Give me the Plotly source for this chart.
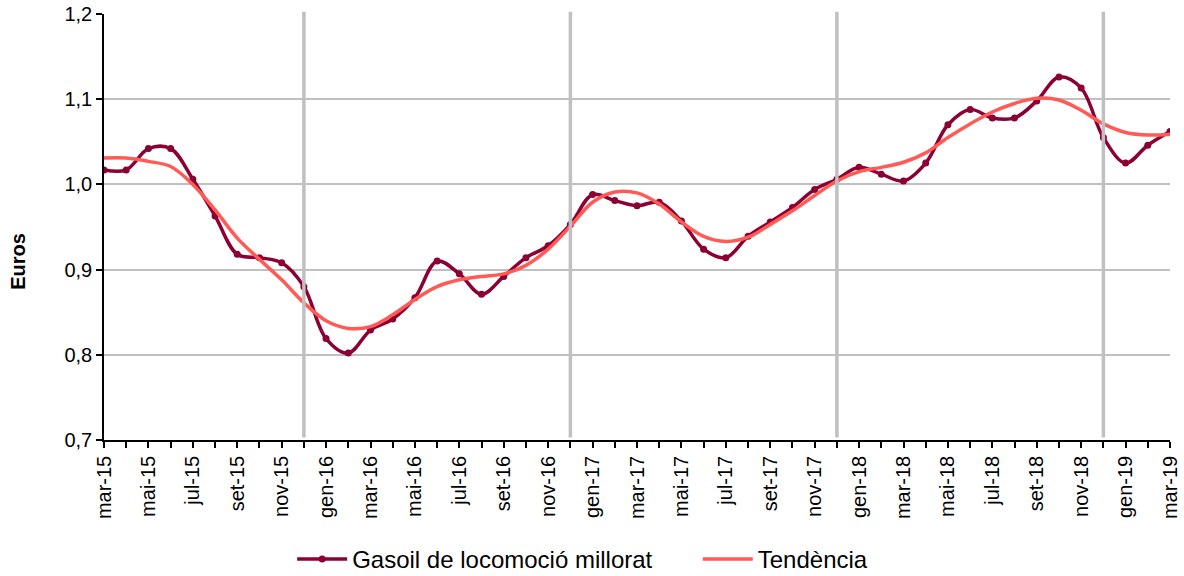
import plotly.graph_objects as go

months = ["mar-15", "abr-15", "mai-15", "jun-15", "jul-15", "ago-15", "set-15", "oct-15", "nov-15", "des-15",
          "gen-16", "feb-16", "mar-16", "abr-16", "mai-16", "jun-16", "jul-16", "ago-16", "set-16", "oct-16", "nov-16", "des-16",
          "gen-17", "feb-17", "mar-17", "abr-17", "mai-17", "jun-17", "jul-17", "ago-17", "set-17", "oct-17", "nov-17", "des-17",
          "gen-18", "feb-18", "mar-18", "abr-18", "mai-18", "jun-18", "jul-18", "ago-18", "set-18", "oct-18", "nov-18", "des-18",
          "gen-19", "feb-19", "mar-19"]

gasoil = [1.017, 1.017, 1.042, 1.042, 1.006, 0.963, 0.918, 0.914, 0.908, 0.880,
          0.819, 0.802, 0.829, 0.842, 0.867, 0.910, 0.895, 0.871, 0.892, 0.914, 0.928, 0.953,
          0.988, 0.981, 0.975, 0.979, 0.957, 0.924, 0.914, 0.939, 0.956, 0.973, 0.994, 1.006,
          1.020, 1.012, 1.004, 1.025, 1.070, 1.088, 1.078, 1.078, 1.098, 1.126, 1.113, 1.055,
          1.025, 1.046, 1.062]

tendencia = [1.031, 1.031, 1.027, 1.021, 1.000, 0.970, 0.937, 0.912, 0.888, 0.861,
             0.840, 0.831, 0.833, 0.847, 0.865, 0.880, 0.888, 0.892, 0.895, 0.905, 0.924, 0.951,
             0.979, 0.991, 0.990, 0.977, 0.956, 0.939, 0.933, 0.938, 0.953, 0.969, 0.987, 1.004,
             1.015, 1.020, 1.026, 1.037, 1.055, 1.071, 1.085, 1.095, 1.101, 1.099, 1.087, 1.071,
             1.061, 1.058, 1.059]

year_breaks = ["des-15", "des-16", "des-17", "des-18"]
y_ticks = [0.7, 0.8, 0.9, 1.0, 1.1, 1.2]

series_name = "Gasoil de locomoció millorat"
trend_name = "Tendència"
y_title = "Euros"

FONT = "Liberation Sans, Arial, sans-serif"

fig = go.Figure()
fig.add_trace(go.Scatter(
    x=months, y=gasoil, name=series_name, mode="lines+markers",
    line=dict(color="#8C0034", width=3.5, shape="spline", smoothing=1.0),
    marker=dict(color="#8C0034", size=7),
    legend="legend",
))
fig.add_trace(go.Scatter(
    x=months, y=tendencia, name=trend_name, mode="lines",
    line=dict(color="#FF5A55", width=3.5, shape="spline", smoothing=1.0),
    legend="legend2",
))

for m in year_breaks:
    fig.add_shape(type="line", xref="x", yref="paper", x0=m, x1=m, y0=0.006, y1=1.005,
                  line=dict(color="#C0C0C0", width=3.5), layer="above")

ticktext = [m if i % 2 == 0 else "" for i, m in enumerate(months)]

fig.update_xaxes(
    type="category", range=[0, len(months) - 1],
    tickmode="array", tickvals=months, ticktext=ticktext,
    tickangle=-90, ticks="outside", ticklen=6, tickwidth=1.5, tickcolor="#000",
    showline=True, linecolor="#000", linewidth=1.5,
    showgrid=False, zeroline=False,
    tickfont=dict(family=FONT, size=20, color="#000"),
)
fig.update_yaxes(
    range=[0.7, 1.2], tickmode="array", tickvals=y_ticks, tickformat=".1f",
    ticks="outside", ticklen=6, tickwidth=1.5, tickcolor="#000",
    showline=True, linecolor="#000", linewidth=1.5,
    showgrid=True, gridcolor="#C0C0C0", gridwidth=1.5, zeroline=False,
    tickfont=dict(family=FONT, size=20, color="#000"),
)

fig.add_annotation(text="<b>" + y_title + "</b>", xref="paper", yref="paper",
                   x=-0.081, y=0.42, textangle=-90, showarrow=False,
                   xanchor="center", yanchor="middle",
                   font=dict(family=FONT, size=20, color="#000"))

legend_common = dict(orientation="h", yanchor="middle", y=-0.28, xanchor="left",
                     font=dict(family=FONT, size=24, color="#000"), itemwidth=50,
                     bgcolor="rgba(0,0,0,0)")

fig.update_layout(
    width=1184, height=576,
    margin=dict(l=104, r=14, t=14, b=136, autoexpand=False),
    paper_bgcolor="white", plot_bgcolor="white",
    separators=",.",
    showlegend=True,
    legend=dict(x=0.1765, **legend_common),
    legend2=dict(x=0.557, **legend_common),
    font=dict(family=FONT, color="#000"),
)

fig.write_html("out.html", config={"displayModeBar": False},
               post_script="document.body.style.margin='0';document.body.style.overflow='hidden';")
